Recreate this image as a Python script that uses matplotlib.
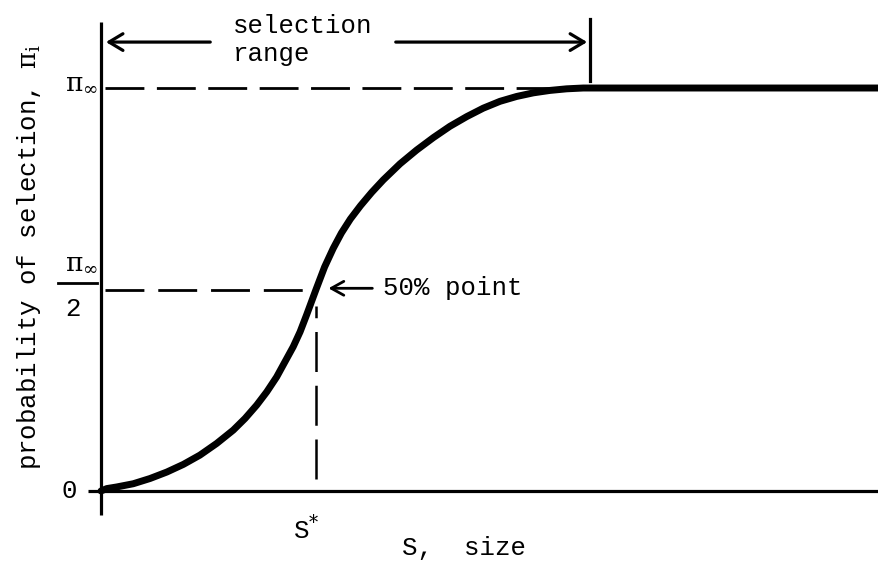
import matplotlib
matplotlib.use("Agg")
import matplotlib.pyplot as plt

plt.rcParams['font.family'] = ['Liberation Mono', 'DejaVu Sans Mono']
plt.rcParams['mathtext.fontset'] = 'dejavuserif'

# Curve: S in units of S*, probability in units of pi_inf
size_s = [0.0, 0.027, 0.073, 0.150, 0.228, 0.306, 0.383, 0.460, 0.538, 0.615,
          0.670, 0.724, 0.771, 0.817, 0.856, 0.894, 0.926, 0.957, 1.0, 1.040,
          1.080, 1.118, 1.160, 1.207, 1.259, 1.313, 1.391, 1.468, 1.546, 1.623,
          1.701, 1.778, 1.856, 1.933, 2.011, 2.088, 2.166, 2.243, 3.62]
prob = [0.0, 0.006, 0.010, 0.018, 0.031, 0.047, 0.066, 0.089, 0.118, 0.151,
        0.180, 0.213, 0.246, 0.283, 0.321, 0.358, 0.395, 0.438, 0.5, 0.556,
        0.602, 0.640, 0.675, 0.708, 0.741, 0.772, 0.812, 0.846, 0.877, 0.905,
        0.929, 0.950, 0.967, 0.979, 0.988, 0.994, 0.998, 1.0, 1.0]

s_star = 1.0
half = 0.5
pi_inf = 1.0
range_end = 2.274

fig = plt.figure(figsize=(8.79, 5.62), dpi=100)
ax = fig.add_axes([0, 0, 1, 1])
ax.set_xlim(-0.4698, 3.6186)
ax.set_ylim(-0.1762, 1.2184)
ax.axis('off')

k = 'black'
# axes
ax.plot([0, 0], [-0.06, 1.164], color=k, lw=2.3, solid_capstyle='butt')
ax.plot([-0.06, 3.62], [0, 0], color=k, lw=2.3, solid_capstyle='butt')

# dashed reference lines
ax.plot([0.02, range_end], [pi_inf, pi_inf], color=k, lw=2.0, dashes=(14, 4.5))
ax.plot([0.02, 0.975], [half, half], color=k, lw=2.0, dashes=(14, 5))
ax.plot([s_star, s_star], [0.03, 0.46], color=k, lw=1.8, dashes=(16, 5.5))

# curve
ax.plot(size_s, prob, color=k, lw=5, solid_capstyle='round', solid_joinstyle='round')

# selection range arrow
ya = 1.114
ax.annotate('', xy=(0.01, ya), xytext=(0.521, ya),
            arrowprops=dict(arrowstyle='->,head_length=1.0,head_width=0.6', lw=2.3, color=k))
ax.annotate('', xy=(range_end, ya), xytext=(1.358, ya),
            arrowprops=dict(arrowstyle='->,head_length=1.0,head_width=0.6', lw=2.3, color=k))
ax.plot([range_end, range_end], [1.017, 1.171], color=k, lw=2.3)
ax.text(0.614, 1.136, 'selection', fontsize=18.5, ha='left', va='baseline')
ax.text(0.614, 1.066, 'range', fontsize=18.5, ha='left', va='baseline')

# 50% point
ax.annotate('', xy=(1.045, 0.503), xytext=(1.275, 0.503),
            arrowprops=dict(arrowstyle='->,head_length=0.9,head_width=0.5', lw=2.0, color=k))
ax.text(1.31, 0.503, '50% point', fontsize=18.5, ha='left', va='center')

# tick labels
ax.text(-0.149, 0.0, '0', fontsize=18.5, ha='center', va='center')
ax.text(-0.09, 1.012, r'$\mathrm{\pi}_\infty$', fontsize=19, ha='center', va='center')
ax.text(-0.09, 0.566, r'$\mathrm{\pi}_\infty$', fontsize=19, ha='center', va='center')
ax.plot([-0.2, -0.019], [0.516, 0.516], color=k, lw=2.0)
ax.text(-0.13, 0.452, '2', fontsize=18.5, ha='center', va='center')

# axis labels
ax.text(0.955, -0.12, r'S$^{*}$', fontsize=18.5, ha='center', va='baseline')
ax.text(1.40, -0.16, 'S,  size', fontsize=18.5, ha='left', va='baseline')
ax.text(-0.335, 0.58, r'probability of selection, $\mathrm{\pi}_{\mathrm{i}}$', fontsize=18.5,
        rotation=90, ha='center', va='center')

fig.savefig('out.png', dpi=100)
